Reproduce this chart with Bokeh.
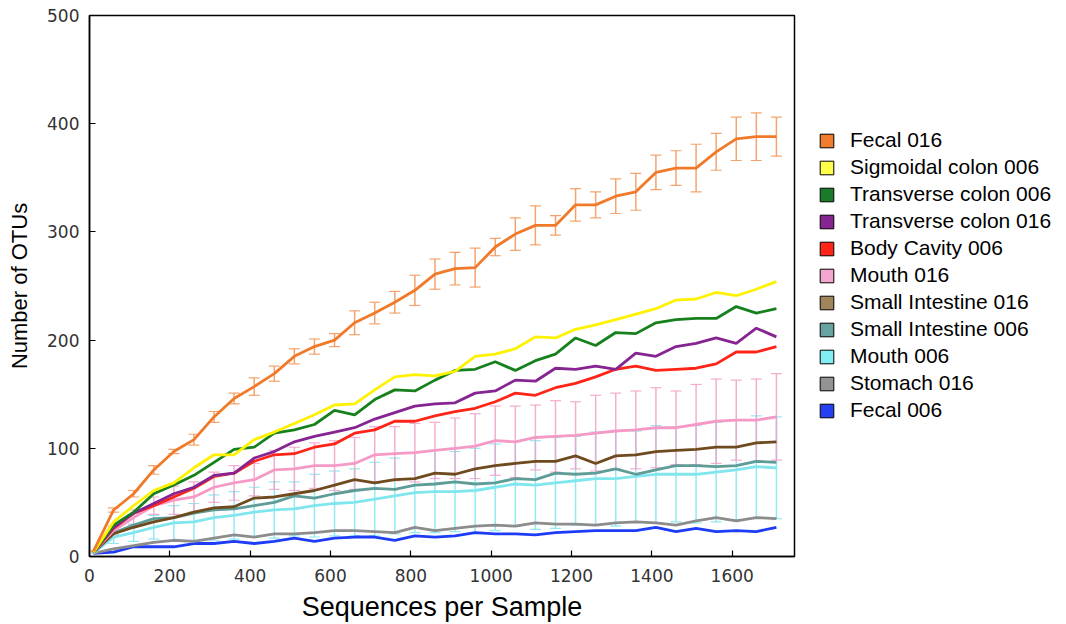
import numpy as np
from bokeh.plotting import figure
from bokeh.models import (ColumnDataSource, Whisker, TeeHead, Legend, LegendItem,
                          SingleIntervalTicker, Range1d)
from bokeh.embed import file_html
from bokeh.resources import INLINE

depths = [10, 60, 110, 160, 210, 260, 310, 360, 410, 460, 510, 560, 610, 660, 710,
          760, 810, 860, 910, 960, 1010, 1060, 1110, 1160, 1210, 1260, 1310, 1360,
          1410, 1460, 1510, 1560, 1610, 1660, 1710]

fecal_016 = [5, 43, 58, 80, 97, 108, 129, 146, 157, 169, 185, 194, 200, 216, 225,
             235, 246, 261, 266, 267, 286, 298, 306, 306, 325, 325, 333, 337, 355,
             359, 359, 374, 386, 388, 388]
fecal_016_err = [0, 2, 3, 4, 2, 5, 5, 5, 8, 7, 7, 7, 6, 11, 10, 10, 14, 14, 15, 18,
                 8, 15, 18, 9, 15, 12, 16, 17, 16, 16, 22, 17, 20, 22, 18]
sigmoidal_006 = [4, 32, 47, 61, 68, 82, 94, 94, 108, 115, 123, 131, 140, 141, 154,
                 166, 168, 167, 171, 185, 187, 192, 203, 202, 210, 214, 219, 224,
                 229, 237, 238, 244, 241, 247, 254]
transverse_006 = [4, 29, 41, 58, 66, 75, 87, 99, 101, 114, 117, 122, 135, 131, 145,
                  154, 153, 163, 172, 173, 180, 172, 181, 187, 202, 195, 207, 206,
                  216, 219, 220, 220, 231, 225, 229]
transverse_016 = [4, 27, 40, 49, 58, 64, 75, 77, 91, 97, 106, 111, 115, 119, 127,
                  133, 139, 141, 142, 151, 153, 163, 162, 174, 173, 176, 173, 188,
                  185, 194, 197, 202, 197, 211, 203]
body_cavity_006 = [4, 26, 40, 47, 55, 63, 74, 77, 88, 94, 95, 101, 104, 114, 117,
                   125, 125, 130, 134, 137, 143, 151, 149, 156, 160, 166, 173, 176,
                   172, 173, 174, 178, 189, 189, 194]
mouth_016 = [4, 24, 36, 47, 52, 55, 64, 68, 71, 80, 81, 84, 84, 86, 94, 95, 96, 98,
             100, 102, 107, 106, 110, 111, 112, 114, 116, 117, 119, 119, 122, 125,
             126, 126, 129]
mouth_016_err = [0, 4, 7, 8, 13, 14, 14, 16, 15, 18, 20, 21, 23, 24, 26, 25, 27, 26,
                 28, 30, 32, 33, 30, 33, 31, 35, 35, 36, 37, 34, 37, 39, 37, 38, 40]
small_int_016 = [4, 21, 27, 32, 36, 41, 45, 46, 54, 55, 58, 61, 66, 71, 68, 71, 72,
                 77, 76, 81, 84, 86, 88, 88, 93, 86, 93, 94, 97, 98, 99, 101, 101,
                 105, 106]
small_int_006 = [4, 22, 29, 35, 36, 40, 43, 44, 47, 50, 56, 54, 58, 61, 63, 62, 66,
                 67, 69, 67, 68, 72, 71, 77, 76, 77, 81, 76, 80, 84, 84, 83, 84, 88, 87]
mouth_006 = [3, 18, 22, 27, 31, 32, 36, 38, 41, 43, 44, 47, 49, 50, 53, 56, 59, 60,
             60, 61, 64, 67, 66, 68, 70, 72, 72, 74, 76, 76, 76, 78, 80, 83, 82]
mouth_006_err = [0, 6, 8, 11, 16, 17, 21, 22, 23, 26, 25, 29, 30, 31, 34, 35, 37, 38,
                 37, 39, 40, 39, 41, 42, 41, 43, 44, 42, 45, 44, 45, 46, 46, 47, 47]
stomach_016 = [3, 7, 10, 13, 15, 14, 17, 20, 18, 21, 21, 22, 24, 24, 23, 22, 27, 24,
               26, 28, 29, 28, 31, 30, 30, 29, 31, 32, 31, 29, 33, 36, 33, 36, 35]
fecal_006 = [3, 4, 9, 9, 9, 12, 12, 14, 12, 14, 17, 14, 17, 18, 18, 15, 19, 18, 19,
             22, 21, 21, 20, 22, 23, 24, 24, 24, 27, 23, 26, 23, 24, 23, 27]

series_names = ["Fecal 016", "Sigmoidal colon 006", "Transverse colon 006",
                "Transverse colon 016", "Body Cavity 006", "Mouth 016",
                "Small Intestine 016", "Small Intestine 006", "Mouth 006",
                "Stomach 016", "Fecal 006"]
series_values = [fecal_016, sigmoidal_006, transverse_006, transverse_016,
                 body_cavity_006, mouth_016, small_int_016, small_int_006,
                 mouth_006, stomach_016, fecal_006]
line_colors = ["#F07A2A", "#FFF200", "#16801C", "#862491", "#FF2418", "#F59AC6",
               "#6E4A1E", "#5E9C98", "#80E6EE", "#8C8C8C", "#1E3CF5"]
legend_colors = ["#F07D2E", "#FFFF4A", "#1A7A2A", "#862491", "#FF2418", "#F5A6CE",
                 "#A0845C", "#66A3A1", "#80EEF2", "#939393", "#2440F0"]

x_ticks_step = 200
y_ticks_step = 100

p = figure(frame_width=705, frame_height=541, output_backend="svg",
           toolbar_location=None,
           x_range=Range1d(0, 1755), y_range=Range1d(0, 500),
           min_border_left=89, min_border_right=0, min_border_top=15,
           min_border_bottom=68)
p.background_fill_color = "white"
p.border_fill_color = "white"
p.outline_line_color = "black"
p.outline_line_width = 1.5
p.xgrid.visible = False
p.ygrid.visible = False

for ax in (p.xaxis[0], p.yaxis[0]):
    ax.major_tick_in = 6
    ax.major_tick_out = 0
    ax.minor_tick_line_color = None
    ax.axis_line_color = "black"
    ax.axis_line_width = 1.5
    ax.major_tick_line_color = "black"
    ax.major_tick_line_width = 1.2
    ax.major_label_text_font = "DejaVu Sans"
    ax.major_label_text_font_size = "17px"
    ax.major_label_text_color = "#333333"
    ax.axis_label_text_font = "Liberation Sans"
    ax.axis_label_text_font_style = "normal"
    ax.axis_label_text_color = "black"

p.xaxis[0].ticker = SingleIntervalTicker(interval=x_ticks_step)
p.yaxis[0].ticker = SingleIntervalTicker(interval=y_ticks_step)
p.xaxis[0].axis_label = "Sequences per Sample"
p.yaxis[0].axis_label = "Number of OTUs"
p.xaxis[0].axis_label_text_font_size = "27px"
p.yaxis[0].axis_label_text_font_size = "22px"
p.xaxis[0].major_label_standoff = 8
p.xaxis[0].axis_label_standoff = 7
p.yaxis[0].major_label_standoff = 6
p.yaxis[0].axis_label_standoff = 12

x = np.array(depths, dtype=float)

def add_err(vals, errs, color, alpha):
    v = np.array(vals, dtype=float)
    e = np.array(errs, dtype=float)
    src = ColumnDataSource(dict(x=x, upper=v + e, lower=v - e))
    w = Whisker(source=src, base="x", upper="upper", lower="lower",
                line_color=color, line_width=1.5, line_alpha=alpha,
                upper_head=TeeHead(size=11, line_color=color, line_width=1.2, line_alpha=alpha),
                lower_head=TeeHead(size=11, line_color=color, line_width=1.2, line_alpha=alpha))
    p.add_layout(w)

add_err(mouth_006, mouth_006_err, "#80E6EE", 0.85)
add_err(mouth_016, mouth_016_err, "#F2A0C8", 0.85)
add_err(fecal_016, fecal_016_err, "#F39A5E", 0.9)

draw_order = list(range(len(series_names)))[::-1]
for i in draw_order:
    p.line(x, np.array(series_values[i], dtype=float), line_color=line_colors[i],
           line_width=2.8)

items = []
for name, col in zip(series_names, legend_colors):
    r = p.quad(left=[np.nan], right=[np.nan], top=[np.nan], bottom=[np.nan],
               fill_color=col, line_color="black", line_width=1)
    items.append(LegendItem(label=name, renderers=[r]))

legend = Legend(items=items, location=(24, 134),
                label_text_font="Liberation Sans", label_text_font_size="21px",
                label_text_color="black", glyph_width=17, glyph_height=17,
                label_standoff=15, spacing=3, padding=6, margin=20,
                border_line_color=None, background_fill_alpha=0)
p.add_layout(legend, "right")

open("out.html", "w").write(file_html(p, INLINE))
